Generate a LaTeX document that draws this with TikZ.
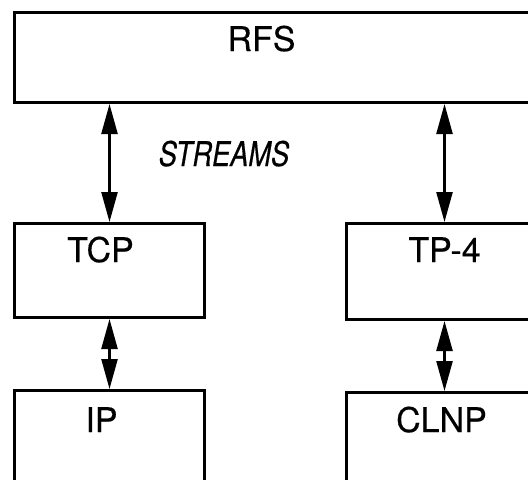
\documentclass[tikz,border=0pt]{standalone}
\usepackage{fontspec}
\setmainfont{TeX Gyre Heros}[FakeBold=0.4]
\newfontfamily\streamsfont{TeX Gyre Heros}[FakeStretch=0.8, FakeBold=0.4]
\usepackage{tikz}
\usetikzlibrary{arrows.meta,positioning}

\begin{document}
\begin{tikzpicture}[
  x=1pt, y=1pt,
  layer/.style={draw, line width=1.5pt, anchor=north west, inner sep=0pt, minimum height=47pt},
  tag/.style={inner sep=0pt, anchor=base, font=\fontsize{17pt}{20pt}\selectfont},
  link/.style={<->, line width=1.2pt},
  >={Triangle[length=15pt, width=8pt]}
]
  \clip (0,0) rectangle (264,-239.5);
  % protocol boxes
  \node[layer, minimum width=263pt, minimum height=45pt] (rfs) at (6.5,-5.5) {};
  \node[layer, minimum width=95pt, below=59pt of rfs.south west, anchor=north west] (tcp) {};
  \node[layer, minimum width=95pt, below=35pt of tcp.south west, anchor=north west] (ip) {};
  \node[layer, minimum width=98pt, minimum height=48pt, right=69.5pt of tcp.north east, anchor=north west] (tp4) {};
  \node[layer, minimum width=98pt, minimum height=45pt, below=35pt of tp4.south west, anchor=north west] (clnp) {};
  % names
  \node[tag] (rfs-name) at ([shift={(-8,-20)}]rfs.north) {RFS};
  \node[tag] (tcp-name) at ([shift={(-4.5,-20)}]tcp.north) {TCP};
  \node[tag] (ip-name) at ([shift={(-4,-21.5)}]ip.north) {IP};
  \node[tag] (tp4-name) at ([shift={(0,-20)}]tp4.north) {TP-4};
  \node[tag] (clnp-name) at ([shift={(-1.5,-20.5)}]clnp.north) {CLNP};
  \node[tag, font=\fontsize{17pt}{20pt}\streamsfont\itshape] (streams) at (112,-83) {STREAMS};
  % links
  \draw[link] (rfs.south -| tcp.north) -- (tcp.north);
  \draw[link] (rfs.south -| tp4.north) -- (tp4.north);
  \draw[link] (tcp.south) -- (tcp.south |- ip.north);
  \draw[link] (tp4.south) -- (tp4.south |- clnp.north);
\end{tikzpicture}
\end{document}
